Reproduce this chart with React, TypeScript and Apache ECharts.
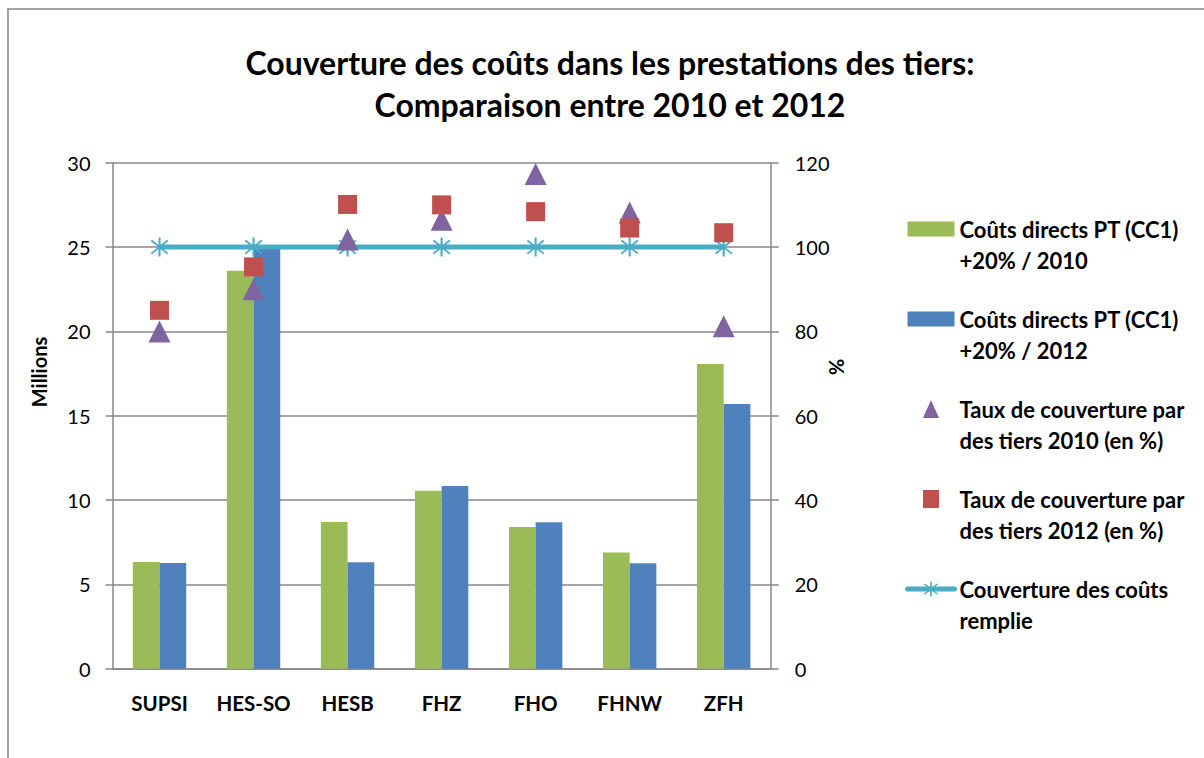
import React, { useEffect, useRef } from "react";
import * as echarts from "echarts";

const categories = ["SUPSI", "HES-SO", "HESB", "FHZ", "FHO", "FHNW", "ZFH"];
const costs2010 = [6.33, 23.6, 8.7, 10.56, 8.41, 6.9, 18.07];
const costs2012 = [6.27, 24.9, 6.31, 10.84, 8.68, 6.25, 15.7];
const rate2010 = [80, 90, 101.8, 106.5, 117.3, 108.2, 81.2];
const rate2012 = [85, 95.3, 110.1, 110, 108.4, 104.5, 103.4];
const fullCoverage = [100, 100, 100, 100, 100, 100, 100];

const seriesNames = [
  "Coûts directs PT (CC1)\n+20% / 2010",
  "Coûts directs PT (CC1)\n+20% / 2012",
  "Taux de couverture par\ndes tiers 2010 (en %)",
  "Taux de couverture par\ndes tiers 2012 (en %)",
  "Couverture des coûts\nremplie",
];

const FONT = "Lato";
const GRAY = "#878787";

const starPath =
  "path://M-0.9,-10L0.9,-10L0.9,10L-0.9,10Z" +
  "M-7.71,-6.43L-6.43,-7.71L7.71,6.43L6.43,7.71Z" +
  "M6.43,-7.71L7.71,-6.43L-6.43,7.71L-7.71,6.43Z";

// legend icons drawn inside a 47 x 18 box (tiny anchors keep the box size)
const xAnchors = "M0,9L0.01,9L0,9.01ZM47,9L46.99,9L47,9.01Z";
const yAnchors = "M23.5,0L23.51,0L23.5,0.01ZM23.5,18L23.51,18L23.5,17.99Z";
const iconRect = "path://M0,1.5L47,1.5L47,16.5L0,16.5Z" + yAnchors;
const iconTriangle = "path://M23.5,0L31.5,18L15.5,18Z" + xAnchors;
const iconSquare = "path://M15.5,0L31.5,0L31.5,18L15.5,18Z" + xAnchors;

export default function App() {
  const ref = useRef<HTMLDivElement>(null);
  useEffect(() => {
    if (!ref.current) return;
    const chart = echarts.init(ref.current, undefined, { renderer: "svg" });
    const option: any = {
      animation: false,
      backgroundColor: "#ffffff",
      textStyle: { fontFamily: FONT },
      title: {
        text: "Couverture des coûts dans les prestations des tiers:\nComparaison entre 2010 et 2012",
        left: 605,
        textAlign: "center",
        top: 36,
        textStyle: {
          fontFamily: FONT,
          fontWeight: "bold",
          fontSize: 32,
          lineHeight: 42,
          color: "#000",
        },
      },
      grid: { left: 112.5, right: 433.3, top: 162.7, bottom: 89.2, containLabel: false },
      legend: {
        orient: "vertical",
        left: 905,
        top: 181.75,
        padding: 0,
        itemGap: -4.5,
        itemWidth: 47,
        itemHeight: 18,
        formatter: (name: string) => "\n" + name,
        textStyle: {
          fontFamily: FONT,
          fontWeight: "bold",
          fontSize: 22,
          lineHeight: 31.5,
          color: "#000",
        },
        data: [
          { name: seriesNames[0], icon: iconRect },
          { name: seriesNames[1], icon: iconRect },
          { name: seriesNames[2], icon: iconTriangle },
          { name: seriesNames[3], icon: iconSquare },
          { name: seriesNames[4], lineStyle: { width: 5, cap: "round" } },
        ],
      },
      xAxis: {
        type: "category",
        data: categories,
        axisLine: { show: true, lineStyle: { color: GRAY, width: 1.5 } },
        axisTick: { show: false },
        axisLabel: {
          interval: 0,
          hideOverlap: false,
          margin: 24,
          fontFamily: FONT,
          fontWeight: "bold",
          fontSize: 20.5,
          color: "#000",
        },
      },
      yAxis: [
        {
          type: "value",
          min: 0,
          max: 30,
          interval: 5,
          axisLine: { show: true, lineStyle: { color: GRAY, width: 1.5 } },
          axisTick: { show: true, length: 7, lineStyle: { color: GRAY, width: 1.5 } },
          splitLine: { show: true, lineStyle: { color: GRAY, width: 1.5 } },
          axisLabel: { margin: 22, fontFamily: FONT, fontSize: 20, color: "#000" },
        },
        {
          type: "value",
          min: 0,
          max: 120,
          interval: 20,
          position: "right",
          axisLine: { show: true, lineStyle: { color: GRAY, width: 1.5 } },
          axisTick: { show: true, length: 8, lineStyle: { color: GRAY, width: 1.5 } },
          splitLine: { show: false },
          axisLabel: { margin: 24, fontFamily: FONT, fontSize: 20, color: "#000" },
        },
      ],
      series: [
        {
          name: seriesNames[0],
          type: "bar",
          data: costs2010,
          barWidth: 26.7,
          barGap: "0%",
          itemStyle: { color: "#9BBB59" },
          z: 2,
        },
        {
          name: seriesNames[1],
          type: "bar",
          data: costs2012,
          barWidth: 26.7,
          barGap: "0%",
          itemStyle: { color: "#4F81BD" },
          z: 2,
        },
        {
          name: seriesNames[2],
          type: "scatter",
          yAxisIndex: 1,
          data: rate2010,
          symbol: "triangle",
          symbolSize: 22,
          itemStyle: { color: "#8064A2", opacity: 1 },
          z: 4,
        },
        {
          name: seriesNames[3],
          type: "scatter",
          yAxisIndex: 1,
          data: rate2012,
          symbol: "rect",
          symbolSize: 19,
          itemStyle: { color: "#C0504D", opacity: 1 },
          z: 5,
        },
        {
          name: seriesNames[4],
          type: "line",
          yAxisIndex: 1,
          data: fullCoverage,
          symbol: starPath,
          symbolSize: [18, 19],
          symbolKeepAspect: false,
          showAllSymbol: true,
          lineStyle: { color: "#4BACC6", width: 5 },
          itemStyle: { color: "#4BACC6", borderWidth: 0 },
          z: 3,
        },
      ],
      graphic: [
        {
          type: "rect",
          shape: { x: 8, y: 9, width: 1400, height: 1000 },
          style: { fill: "none", stroke: GRAY, lineWidth: 1.5 },
          silent: true,
        },
        {
          type: "text",
          x: 39,
          y: 372,
          rotation: Math.PI / 2,
          style: {
            text: "Millions",
            fontFamily: FONT,
            fontWeight: "bold",
            fontSize: 20,
            fill: "#000",
            align: "center",
            verticalAlign: "middle",
          },
        },
        {
          type: "text",
          x: 837,
          y: 367,
          rotation: -Math.PI / 2,
          style: {
            text: "%",
            fontFamily: FONT,
            fontWeight: "bold",
            fontSize: 20,
            fill: "#000",
            align: "center",
            verticalAlign: "middle",
          },
        },
      ],
    };
    chart.setOption(option);
    return () => chart.dispose();
  }, []);
  return (
    <div
      ref={ref}
      style={{ position: "fixed", left: 0, top: 0, width: 1204, height: 758 }}
    />
  );
}
